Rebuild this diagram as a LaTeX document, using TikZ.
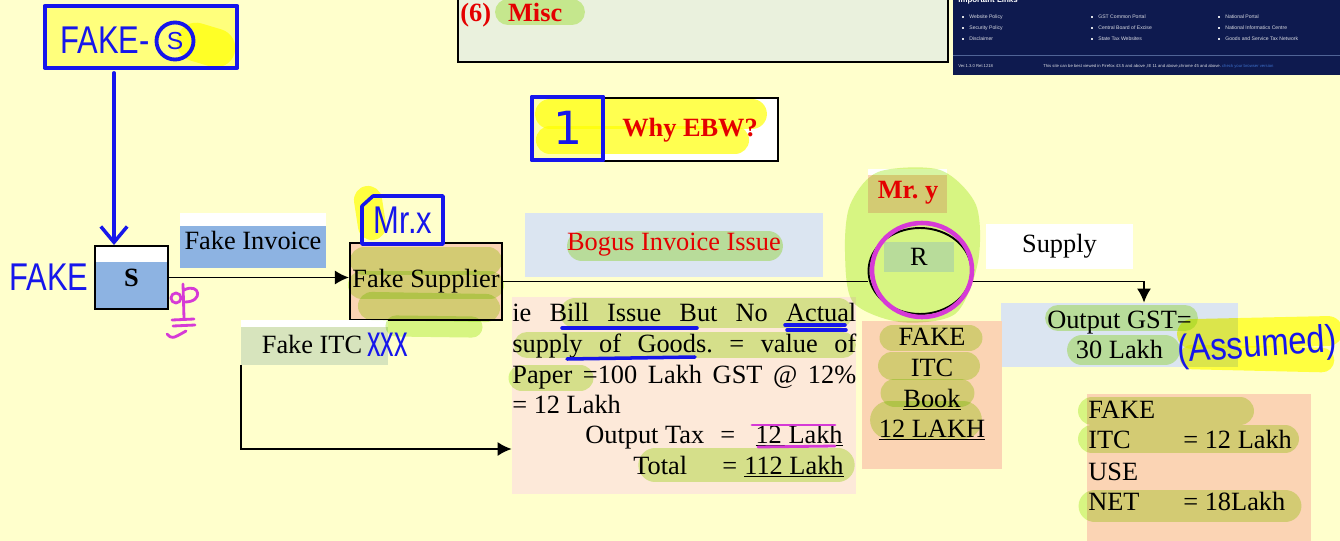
\documentclass[tikz,border=0pt]{standalone}
\usepackage{fontspec}
\setmainfont{Liberation Serif}
\setsansfont{Liberation Sans}
\newfontfamily\digitfont{DejaVu Sans}
\usepackage{tikz}
\usetikzlibrary{positioning,shapes.geometric,arrows.meta}
\frenchspacing

\definecolor{paper}{RGB}{255,255,204}
\definecolor{sblue}{RGB}{141,179,226}
\definecolor{paleblue}{RGB}{219,229,241}
\definecolor{sage}{RGB}{215,228,189}
\definecolor{peach}{RGB}{251,212,180}
\definecolor{lightpeach}{RGB}{253,233,217}
\definecolor{mint}{RGB}{234,241,221}
\definecolor{navy}{RGB}{14,26,79}
\definecolor{linkblue}{RGB}{60,110,200}
\definecolor{inkblue}{RGB}{22,22,235}
\definecolor{inkpink}{RGB}{214,58,214}
\definecolor{hlgreen}{RGB}{215,245,163}
\definecolor{hlyellow}{RGB}{255,255,80}
\definecolor{titlered}{RGB}{228,0,0}

\begin{document}
\begin{tikzpicture}[
		x=0.02cm, y=-0.02cm,
		font=\fontsize{15}{17.5}\selectfont,
		inner sep=0pt,
		>={Latex[length=8pt,width=8pt]},
		wire/.style={line width=1.1pt},
		edged/.style={draw, line width=1.1pt},
		whitetab/.style={path picture={\fill[white] (path picture bounding box.north west) rectangle ([yshift=-#1]path picture bounding box.north east);}},
		ink/.style={draw=inkblue, line width=2pt, line cap=round, line join=round},
		pinkink/.style={draw=inkpink, line width=1.6pt, line cap=round, line join=round},
		inkword/.style={text=inkblue, font=\fontsize{22}{24}\sffamily},
		redtitle/.style={text=titlered, font=\fontsize{15}{17.5}\selectfont\bfseries},
		hilite/.style={draw=hlgreen, line width=#1, line cap=round},
		hilite/.default=15pt,
		yhilite/.style={draw=hlyellow, line width=#1, line cap=round},
		yhilite/.default=17pt,
		linktext/.style={text=white!85!navy, font=\fontsize{2.9}{3.5}\sffamily}
	]

	\useasboundingbox (0,0) rectangle (1340,541);
	\clip (0,0) rectangle (1340,541);
	\fill[paper] (0,0) rectangle (1340,541);

	\node [draw, line width=1.4pt, fill=mint, minimum width=9.8cm, minimum height=1.44cm] (misc) at (703,26) {};

	\fill[navy] (953,-5) rectangle (1340,75);
	\draw[color={rgb,255:red,80;green,100;blue,150}, line width=0.4pt] (953,55) -- (1340,55);
	\node [anchor=base west, text=white, font=\fontsize{4.5}{5}\sffamily\bfseries] (links) at (958,3) {Important Links};
	\foreach \t/\x/\y in {Website Policy/969/17, Security Policy/969/28, Disclaimer/969/39,
		GST Common Portal/1098/17, Central Board of Excise/1098/28, State Tax Websites/1098/39,
		National Portal/1225/17, National Informatics Centre/1225/28, Goods and Service Tax Network/1225/39} {
		\fill[white!85!navy] (\x-7,\y-1) rectangle (\x-5,\y+1);
		\node [linktext, anchor=west] (lk\x\y) at (\x,\y) {\t};
	}
	\node [linktext, anchor=west, font=\fontsize{2.4}{3}\sffamily] (ver) at (958,66) {Ver.1.3.0 Rel.1218};
	\node [linktext, anchor=west, font=\fontsize{2.4}{3}\sffamily] (best) at (1043,66) {This site can be best viewed in Firefox 43.5 and above ,IE 11 and above,chrome 45 and above. \textcolor{linkblue}{check your browser version}};

	\node [fill=white, edged, minimum width=3.5cm, minimum height=1.26cm] (ebw) at (690.5,129.5) {};
	\node [fill=hlyellow!45!white, minimum width=1.42cm, minimum height=1.26cm] (ebwnum) at (567.5,128.5) {};

	\node [fill=hlyellow!75!white, minimum width=3.84cm, minimum height=1.22cm] (fakes) at (141,37) {};

	\node [edged, fill=sblue, whitetab=0.32cm, minimum width=1.46cm, minimum height=1.26cm, font=\fontsize{15}{17.5}\selectfont\bfseries] (sbox) at (131.5,277.5) {S};
	\node [fill=sblue, whitetab=0.26cm, minimum width=2.92cm, minimum height=1.1cm] (inv) at (253,240.5) {Fake Invoice};
	\node [edged, fill=peach, minimum width=3.04cm, minimum height=1.54cm] (supp) at (426,281.5) {Fake Supplier};
	\node [fill=sage, whitetab=0.14cm, minimum width=2.94cm, minimum height=0.9cm] (itc) at (314.5,342.5) {};
	\node (itctxt) at (312,344) {Fake ITC};

	\node [fill=paleblue, minimum width=5.96cm, minimum height=1.28cm] (bogus) at (674,245) {};

	\node [fill=lightpeach, minimum width=6.88cm, minimum height=3.94cm] (txt) at (684,395.5) {};
	\node [anchor=base west] (ln1) at (512,321) {\makebox[6.88cm][s]{ie Bill Issue But No Actual}};
	\node [anchor=base west] (ln2) at (512,352) {\makebox[6.88cm][s]{supply of Goods. = value of}};
	\node [anchor=base west] (ln3) at (512,383) {\makebox[6.88cm][s]{Paper =100 Lakh GST @ 12\%}};
	\node [anchor=base west] (ln4) at (512,413) {= 12 Lakh};
	\node [anchor=base west] (taxlbl) at (585,443) {Output Tax};
	\node [anchor=base west] (taxeq) at (720,443) {=};
	\node [anchor=base east] (taxval) at (843,443) {\underline{12 Lakh}};
	\node [anchor=base west] (totlbl) at (633,474) {Total};
	\node [anchor=base west] (toteq) at (722,474) {=};
	\node [anchor=base east] (totval) at (844,474) {\underline{112 Lakh}};

	\node [fill=peach, whitetab=0.12cm, minimum width=1.58cm, minimum height=0.88cm] (mry) at (907.5,191) {};
	\node [fill=paleblue, minimum width=1.4cm, minimum height=0.6cm] (rlbl) at (919,257) {R};
	\node [draw, ellipse, line width=1.1pt, minimum width=2.06cm, minimum height=1.72cm] (rcirc) at (920,271) {};

	\node [fill=white, minimum width=2.94cm, minimum height=0.9cm] (supply) at (1059.5,246.5) {Supply};
	\node [fill=paleblue, minimum width=4.76cm, minimum height=1.28cm, align=center] (outgst) at (1119.5,335) {Output GST=\\30 Lakh};

	\node [fill=peach, minimum width=2.8cm, minimum height=2.96cm] (fitc) at (932,395) {};
	\node [anchor=base] (fitc1) at (932,345) {FAKE};
	\node [anchor=base] (fitc2) at (932,376) {ITC};
	\node [anchor=base] (fitc3) at (932,407) {\underline{Book}};
	\node [anchor=base] (fitc4) at (932,437) {\underline{12 LAKH}};

	\node [fill=peach, minimum width=4.48cm, minimum height=2.94cm] (net) at (1199,467.5) {};
	\node [anchor=base west] (net1) at (1088,418) {FAKE};
	\node [anchor=base west] (net2) at (1088,448) {ITC};
	\node [anchor=base west] (net2v) at (1183,448) {= 12 Lakh};
	\node [anchor=base west] (net3) at (1088,480) {USE};
	\node [anchor=base west] (net4) at (1088,510) {NET};
	\node [anchor=base west] (net4v) at (1183,510) {= 18Lakh};

	\coordinate (inkx) at (114,0);
	\coordinate (drop) at (1144,0);
	\coordinate (entry) at (0,449);

	\draw [wire,->] (sbox.east) -- (sbox.east -| supp.west);
	\draw [wire] (supp.east) -- (supp.east -| rcirc.west);
	\draw [wire,->] (rcirc.east |- supp.east) -| (outgst.north -| drop);
	\draw [wire,->] (itc.south west) |- (txt.west |- entry);

	\begin{scope}[blend mode=multiply]
		\fill[hlgreen] plot[smooth cycle] coordinates {(850,205) (878,172) (940,170) (976,205) (978,262) (955,314) (900,322) (853,302) (845,252)};
		\draw[hilite=14.7pt] (508,12) -- (572,12);
		\draw[hilite=17pt] (582,246) -- (768,246);
		\draw[hilite=16pt] (364,261) -- (488,261);
		\draw[hilite=16pt] (362,285) -- (490,285);
		\draw[hilite=16pt] (372,306) -- (486,308);
		\draw[hilite=12pt] (396,326) -- (472,327);
		\draw[hilite=17pt] (575,313) -- (838,313);
		\draw[hilite=14.7pt] (527,345) -- (843,345);
		\draw[hilite=15.3pt] (522,378) -- (580,378);
		\draw[hilite=19pt] (655,465) -- (838,465);
		\draw[hilite=15.3pt] (893,338) -- (969,338);
		\draw[hilite=15.9pt] (892,366) -- (966,366);
		\draw[hilite=16.4pt] (895,393) -- (960,393);
		\draw[hilite=21.5pt] (889,420) -- (963,420);
		\draw[hilite=14.7pt] (1058,318) -- (1185,318);
		\draw[hilite=17pt] (1082,350) -- (1165,350);
		\draw[hilite=15.9pt] (1092,411) -- (1240,411);
		\draw[hilite=15.9pt] (1092,439) -- (1285,439);
		\draw[hilite=18.7pt] (1095,506) -- (1285,506);
		\draw[yhilite=17pt] (550,114) -- (752,114);
		\draw[yhilite=16pt] (550,140) -- (735,140);
		\draw[yhilite=22pt] (196,42) -- (216,48);
		\draw[yhilite=17pt] (1192,334) -- (1328,331);
		\draw[yhilite=14pt] (1192,357) -- (1322,360);
		\draw[yhilite=16pt] (368,200) -- (372,226);
	\end{scope}

	\node [anchor=base west, redtitle] (misclbl) at (460,21) {(6)\hspace{0.34cm}Misc};
	\node [redtitle] (ebwtxt) at (690,130) {Why EBW?};
	\node [text=titlered] (bogustxt) at (674,245) {Bogus Invoice Issue};
	\node [redtitle] (mrytxt) at (908,193) {Mr. y};

	\draw[inkpink, line width=2.6pt] (922,270) ellipse [x radius=50, y radius=47];

	\draw[ink, line width=2.4pt] (fakes.north west) rectangle (fakes.south east);
	\node [inkword] (fakeword) at (105,40) {\scalebox{.8}[1]{FAKE-}};
	\node [circle, draw=inkblue, line width=2.2pt, minimum size=0.74cm, text=inkblue, font=\fontsize{14}{16}\sffamily] (fakesign) at (175,41) {S};
	\draw[ink, -{Straight Barb[length=9pt,width=15pt]}] ([yshift=-0.1cm]fakes.south -| inkx) -- (sbox.north -| inkx);
	\node [inkword] (fakeleft) at (49,277) {\scalebox{.8}[1]{FAKE}};

	\draw[ink] (373,196) -- (443,196) -- (443,244) -- (362,244) -- (362,206) -- cycle;
	\node [inkword] (mrx) at (403,220) {\scalebox{.8}[1]{Mr.x}};
	\node [inkword, anchor=west] (xxx) at (367,345) {\scalebox{.7}[1.15]{xxx}};

	\draw[ink, line width=2.4pt] (ebwnum.north west) rectangle (ebwnum.south east);
	\node [text=inkblue, font=\fontsize{26}{28}\digitfont] (one) at (568,128) {1};

	\node [inkword, rotate=4] (assumed) at (1257,347) {\scalebox{.85}[1]{(Assumed)}};

	\draw[ink] (562,328) -- (697,328);
	\draw[ink] (785,325) -- (845,325);
	\draw[ink] (787,330) -- (846,330);
	\draw[ink] (567,359) -- (695,357);

	\draw[pinkink] (752,425) -- (835,425);
	\draw[pinkink] (758,447) -- (835,446);

	\draw[pinkink] (176,298) circle [radius=5];
	\draw[pinkink] (183,284) -- (184,318);
	\draw[pinkink] (184,290) .. controls (200,282) and (204,302) .. (185,302);
	\draw[pinkink] (172,320) -- (194,319);
	\draw[pinkink] (173,326) -- (195,325);
	\draw[pinkink] (167,334) .. controls (172,339) .. (186,331);
\end{tikzpicture}
\end{document}
